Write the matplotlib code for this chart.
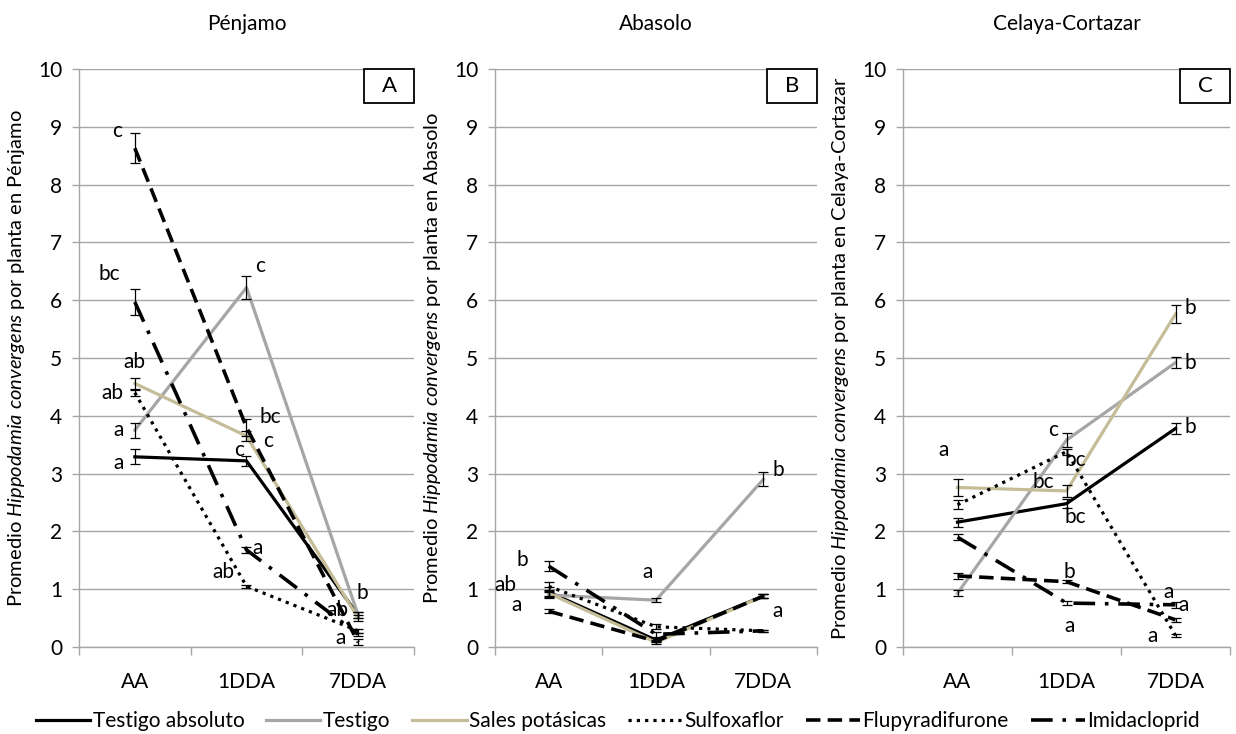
import matplotlib
matplotlib.use("Agg")
import matplotlib.pyplot as plt
from matplotlib.patches import Rectangle

plt.rcParams['font.family'] = ['Lato', 'DejaVu Sans']
plt.rcParams['mathtext.fontset'] = 'custom'
plt.rcParams['mathtext.rm'] = 'Lato'
plt.rcParams['mathtext.it'] = 'Lato:italic'

categories = ["AA", "1DDA", "7DDA"]
series = ["Testigo absoluto", "Testigo", "Sales potásicas",
          "Sulfoxaflor", "Flupyradifurone", "Imidacloprid"]
sites = ["Pénjamo", "Abasolo", "Celaya-Cortazar"]
panel_tags = ["A", "B", "C"]

# Pénjamo
pen_testigo_abs = [3.29, 3.22, 0.55]
pen_testigo = [3.75, 6.22, 0.55]
pen_sales = [4.56, 3.65, 0.50]
pen_sulfo = [4.40, 1.05, 0.28]
pen_flupy = [8.63, 3.80, 0.08]
pen_imida = [5.97, 1.68, 0.22]
pen_err = [[0.13, 0.08, 0.05], [0.13, 0.20, 0.05], [0.10, 0.08, 0.05],
           [0.05, 0.03, 0.03], [0.26, 0.15, 0.05], [0.22, 0.05, 0.03]]

# Abasolo
aba_testigo_abs = [0.95, 0.12, 0.88]
aba_testigo = [0.90, 0.81, 2.90]
aba_sales = [0.93, 0.08, 0.88]
aba_sulfo = [1.05, 0.35, 0.28]
aba_flupy = [0.62, 0.10, 0.88]
aba_imida = [1.40, 0.22, 0.28]
aba_err = [[0.08, 0.03, 0.04], [0.05, 0.04, 0.12], [0.04, 0.02, 0.04],
           [0.07, 0.04, 0.02], [0.03, 0.02, 0.04], [0.09, 0.04, 0.02]]

# Celaya-Cortazar
cel_testigo_abs = [2.16, 2.48, 3.78]
cel_testigo = [0.93, 3.58, 4.92]
cel_sales = [2.76, 2.70, 5.76]
cel_sulfo = [2.46, 3.38, 0.20]
cel_flupy = [1.23, 1.13, 0.47]
cel_imida = [1.90, 0.76, 0.73]
cel_err = [[0.08, 0.08, 0.10], [0.05, 0.12, 0.10], [0.15, 0.10, 0.15],
           [0.08, 0.05, 0.02], [0.05, 0.03, 0.03], [0.05, 0.03, 0.05]]

# mean separation letters
pen_letters = ["c", "bc", "ab", "ab", "a", "a", "c", "bc", "c", "c", "a", "ab", "b", "ab", "a"]
aba_letters = ["b", "ab", "a", "a", "b", "a"]
cel_letters = ["a", "c", "bc", "bc", "bc", "b", "b", "b", "b", "a", "a", "a", "a"]

# letter placement (x in category units, y in data units)
pen_letter_pos = [(-0.16, 8.93), (-0.23, 6.45), (0.0, 4.93), (-0.2, 4.4), (-0.15, 3.75),
                  (-0.15, 3.18), (1.12, 6.6), (1.21, 3.98), (1.19, 3.56), (0.93, 3.41),
                  (1.1, 1.71), (0.79, 1.3), (2.04, 0.93), (1.81, 0.64), (1.84, 0.16)]
aba_letter_pos = [(-0.25, 1.51), (-0.4, 1.07), (-0.3, 0.73), (0.92, 1.3), (2.14, 3.06), (2.13, 0.62)]
cel_letter_pos = [(-0.13, 3.41), (0.88, 3.75), (1.08, 3.23), (0.79, 2.85), (1.08, 2.25),
                  (2.14, 5.87), (2.14, 4.92), (2.14, 3.8), (1.03, 1.3), (1.03, 0.36),
                  (1.94, 0.96), (2.07, 0.73), (1.79, 0.19)]

data = [
    [pen_testigo_abs, pen_testigo, pen_sales, pen_sulfo, pen_flupy, pen_imida],
    [aba_testigo_abs, aba_testigo, aba_sales, aba_sulfo, aba_flupy, aba_imida],
    [cel_testigo_abs, cel_testigo, cel_sales, cel_sulfo, cel_flupy, cel_imida],
]
errs = [pen_err, aba_err, cel_err]
letters = [pen_letters, aba_letters, cel_letters]
letter_pos = [pen_letter_pos, aba_letter_pos, cel_letter_pos]

colors = ["black", "#A6A6A6", "#C4BD97", "black", "black", "black"]
dashes = [None, None, None, (1, 1.6), (4, 2), (6, 2.7, 1, 2.7)]
lw = [2.3, 2.3, 2.3, 2.3, 2.6, 2.6]
grid_c = "#A6A6A6"

W, H = 1236, 734
fig = plt.figure(figsize=(W / 100, H / 100), dpi=100)
# axes boxes in pixels: left, right
boxes = [(79, 414), (495, 817), (903, 1230)]
y_top, y_bot = 69, 647

x = list(range(len(categories)))
handles = []
for i, (l, r) in enumerate(boxes):
    ax = fig.add_axes([l / W, (H - y_bot) / H, (r - l) / W, (y_bot - y_top) / H])
    for j in range(len(series)):
        ax.errorbar(x, data[i][j], yerr=errs[i][j], fmt='none', ecolor='black',
                    elinewidth=0.9, capsize=3.5, capthick=0.9, zorder=3)
        kw = dict(color=colors[j], lw=lw[j], label=series[j], zorder=2)
        if dashes[j] is not None:
            kw['dashes'] = dashes[j]
        ln, = ax.plot(x, data[i][j], **kw)
        if i == 0:
            handles.append(ln)
    for let, (lx, ly) in zip(letters[i], letter_pos[i]):
        ax.text(lx, ly, let, fontsize=15, ha='center', va='center', zorder=4)

    ax.set_xlim(-0.5, 2.5)
    ax.set_ylim(0, 10)
    ax.set_yticks(range(0, 11))
    ax.set_xticks(x)
    ax.set_xticklabels(categories)
    ax.set_xticks([-0.5, 0.5, 1.5, 2.5], minor=True)
    ax.tick_params(axis='x', which='major', length=0, pad=18, labelsize=15)
    ax.tick_params(axis='x', which='minor', length=6, color=grid_c, width=1)
    ax.tick_params(axis='y', length=5, color=grid_c, width=1, pad=7, labelsize=15)
    ax.grid(axis='y', color=grid_c, lw=1)
    ax.set_axisbelow(True)
    for s in ['top', 'right']:
        ax.spines[s].set_visible(False)
    for s in ['left', 'bottom']:
        ax.spines[s].set_color(grid_c)
        ax.spines[s].set_linewidth(1)
    ax.set_title(sites[i], fontsize=15, pad=28)
    ax.set_ylabel(r"Promedio $Hippodamia\ convergens$ por planta en " + sites[i],
                  fontsize=14.5, labelpad=8)

    # panel tag box
    bw = 50 / (r - l)
    bh = 34 / (y_bot - y_top)
    ax.add_patch(Rectangle((1 - bw, 1 - bh), bw, bh, transform=ax.transAxes,
                           fill=True, fc='white', ec='black', lw=1.3, clip_on=False, zorder=5))
    ax.text(1 - bw / 2, 1 - bh / 2, panel_tags[i], transform=ax.transAxes,
            ha='center', va='center', fontsize=16, zorder=6)

fig.legend(handles=handles, labels=series, loc='center', bbox_to_anchor=(0.5, 1 - 721 / H),
           ncol=6, frameon=False, fontsize=15, handlelength=2.6, handletextpad=0.12,
           columnspacing=1.05)

fig.savefig("out.png", dpi=100)
